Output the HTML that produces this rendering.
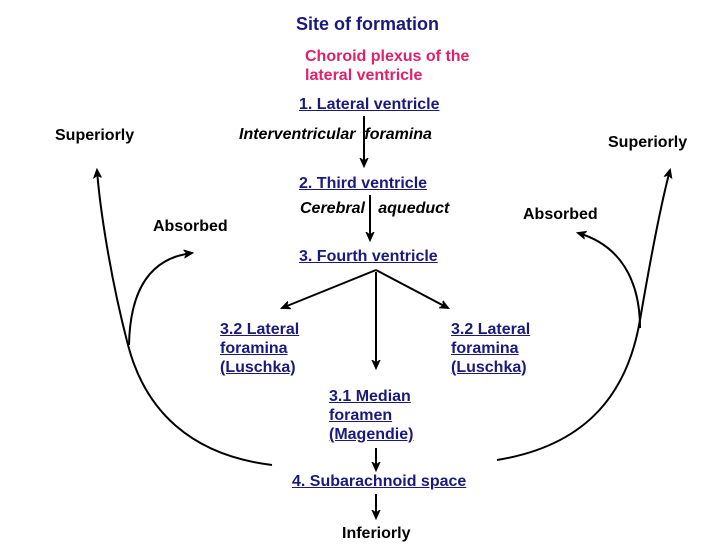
<!DOCTYPE html>
<html><head><style>
body{margin:0;background:#fff;width:728px;height:546px;position:relative;overflow:hidden;font-family:"Liberation Sans",sans-serif;font-weight:bold;font-size:16px}
.t{position:absolute;white-space:nowrap;line-height:19px}
.b{color:#1a1a7e;text-decoration:underline}
.k{color:#000}
.i{font-style:italic}
.p{color:#e0206a}
</style></head><body>
<div class="t" style="left:296px;top:15px;color:#1a1a7e;font-size:18px">Site of formation</div>
<div class="t p" style="left:305px;top:47px">Choroid plexus of the<br>lateral ventricle</div>
<div class="t b" style="left:299px;top:95px">1. Lateral ventricle</div>
<div class="t k i" style="left:239px;top:125px">Interventricular&nbsp;&nbsp;foramina</div>
<div class="t b" style="left:299px;top:174px">2. Third ventricle</div>
<div class="t k i" style="left:300px;top:199px">Cerebral&nbsp;&nbsp; aqueduct</div>
<div class="t b" style="left:299px;top:247px">3. Fourth ventricle</div>
<div class="t k" style="left:55px;top:126px">Superiorly</div>
<div class="t k" style="left:608px;top:133px">Superiorly</div>
<div class="t k" style="left:153px;top:217px">Absorbed</div>
<div class="t k" style="left:523px;top:205px">Absorbed</div>
<div class="t b" style="left:220px;top:320px">3.2 Lateral<br>foramina<br>(Luschka)</div>
<div class="t b" style="left:451px;top:320px">3.2 Lateral<br>foramina<br>(Luschka)</div>
<div class="t b" style="left:329px;top:387px">3.1 Median<br>foramen<br>(Magendie)</div>
<div class="t b" style="left:292px;top:472px">4. Subarachnoid space</div>
<div class="t k" style="left:342px;top:524px">Inferiorly</div>
<svg width="728" height="546" style="position:absolute;left:0;top:0">
<defs><marker id="a" markerWidth="10" markerHeight="10" refX="8" refY="5" orient="auto" markerUnits="userSpaceOnUse"><path d="M0,1 L9,5 L0,9 L3,5 Z" fill="#000" stroke="#000" stroke-width="1"/></marker></defs>
<g stroke="#000" stroke-width="2" fill="none" marker-end="url(#a)">
<line x1="364" y1="116" x2="364" y2="166"/>
<line x1="370" y1="195" x2="370" y2="240"/>
<line x1="376" y1="270" x2="282" y2="308"/>
<line x1="376" y1="270" x2="448" y2="308"/>
<line x1="376" y1="272" x2="376" y2="368"/>
<line x1="376" y1="448" x2="376" y2="470"/>
<line x1="376" y1="494" x2="376" y2="518"/>
<path d="M272,465 C190,455 145,410 128,345 S100,210 97,170"/>
<path d="M129,345 C130,290 150,258 192,253"/>
<path d="M497,460 C590,445 628,390 640,320 S662,200 670,170"/>
<path d="M640,328 C640,280 620,245 578,233"/>
</g>
</svg>
</body></html>
